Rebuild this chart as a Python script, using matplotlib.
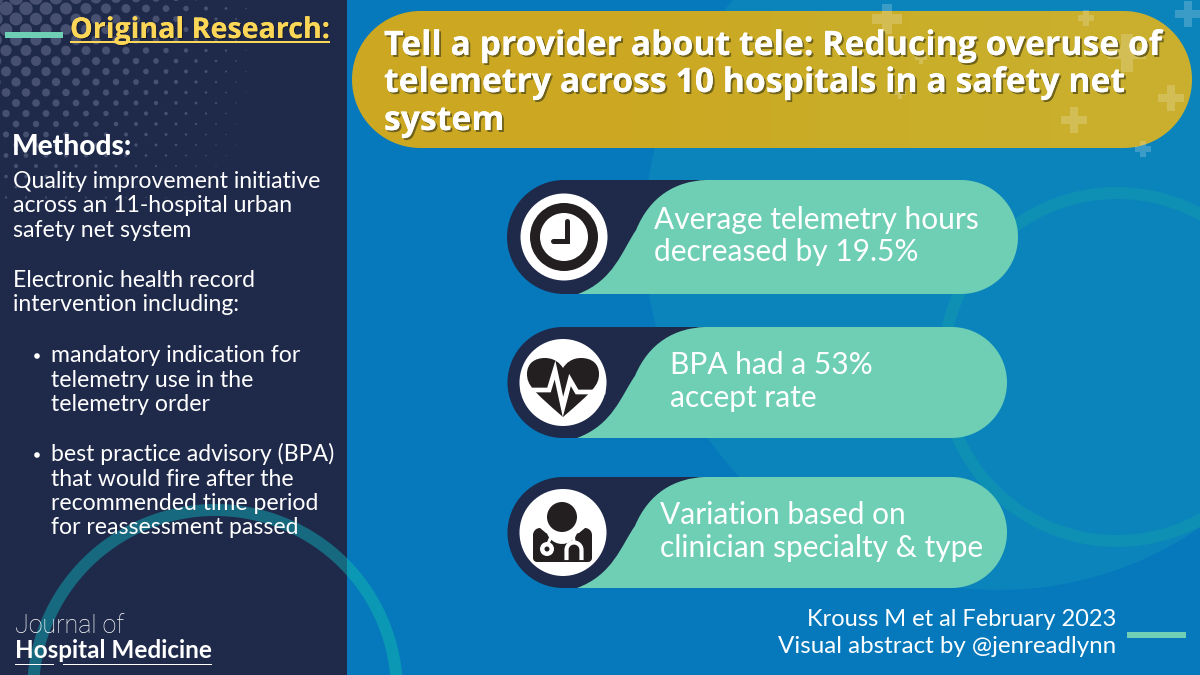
import numpy as np
import matplotlib
matplotlib.use("Agg")
import matplotlib.pyplot as plt
import matplotlib.patheffects as pe
from matplotlib.colors import LinearSegmentedColormap
from matplotlib.patches import Circle, Rectangle, PathPatch, Wedge, Polygon
from matplotlib.path import Path

# ---- content ----
badge_title = "Original Research:"
methods_head = "Methods:"
methods_lines = ["Quality improvement initiative", "across an 11-hospital urban", "safety net system",
                 "Electronic health record", "intervention including:"]
methods_base = [188, 212, 237, 287, 311]
bullet_lines = ["mandatory indication for", "telemetry use in the", "telemetry order",
                "best practice advisory (BPA)", "that would fire after the",
                "recommended time period", "for reassessment passed"]
bullet_base = [362, 387, 411, 461, 486, 510, 534]
title_lines = ["Tell a provider about tele: Reducing overuse of",
               "telemetry across 10 hospitals in a safety net", "system"]
title_base = [55, 92, 130]
result_lines = [["Average telemetry hours", "decreased by 19.5%"],
                ["BPA had a 53%", "accept rate"],
                ["Variation based on", "clinician specialty & type"]]
credit_lines = ["Krouss M et al February 2023", "Visual abstract by @jenreadlynn"]

NAVY, TEAL, BLUE = "#1f2a4b", "#6ecfb5", "#0579bc"
BLACK, YELLOW = "#231f20", "#fcd757"
SANS, HEAD = "Lato", "Open Sans"

fig = plt.figure(figsize=(12, 6.75), dpi=100, facecolor=BLUE)
ax = fig.add_axes([0, 0, 1, 1])
ax.set_xlim(0, 1200)
ax.set_ylim(675, 0)
ax.axis("off")


def arc(cx, cy, r, a0, a1, n=60):
    t = np.radians(np.linspace(a0, a1, n))
    return np.column_stack([cx + r * np.cos(t), cy + r * np.sin(t)])


def cross(x, y, s, color="white", alpha=0.2, z=3):
    w = s * 0.32
    ax.add_patch(Polygon([(x - w / 2, y - s / 2), (x + w / 2, y - s / 2), (x + w / 2, y - w / 2),
                          (x + s / 2, y - w / 2), (x + s / 2, y + w / 2), (x + w / 2, y + w / 2),
                          (x + w / 2, y + s / 2), (x - w / 2, y + s / 2), (x - w / 2, y + w / 2),
                          (x - s / 2, y + w / 2), (x - s / 2, y - w / 2), (x - w / 2, y - w / 2)],
                         closed=True, fc=color, ec="none", alpha=alpha, zorder=z))


# ---- background ----
ax.add_patch(Circle((999, 235), 355, fc="#0b84bb", ec="none", zorder=0.5))
ax.add_patch(Wedge((1117, 367), 180, 0, 360, width=12, fc="#0e90b5", ec="none", zorder=0.6))
ax.add_patch(Wedge((215, 692), 188, 0, 360, width=12, fc="#0a98b5", ec="none", zorder=0.7))

# gold title pill with a soft horizontal shift
gold_map = LinearSegmentedColormap.from_list("gold", ["#cca822", "#cca822", "#c9ae2a", "#c9b02e"])
r = (148 - 11) / 2
pill_pts = np.vstack([arc(352 + r, 11 + r, r, 90, 270), arc(1192 - r, 11 + r, r, -90, 90)])
pill_clip = Polygon(pill_pts, closed=True, transform=ax.transData, fc="none", ec="none")
ax.add_patch(pill_clip)
im = ax.imshow(np.linspace(0, 1, 256)[None, :], cmap=gold_map, extent=(352, 1192, 148, 11),
               aspect="auto", zorder=1)
im.set_clip_path(pill_clip)
ax.set_xlim(0, 1200)
ax.set_ylim(675, 0)

for x, y, s in [(887, 19, 30), (1086, 18, 16), (1127, 53, 38), (1188, 14, 26), (1171, 98, 26),
                (1074, 120, 26), (1143, 149, 16), (921, 58, 12), (900, 93, 12)]:
    cross(x, y, s)

# ---- left panel ----
ax.add_patch(Rectangle((0, 0), 347, 675, fc=NAVY, ec="none", zorder=4))
for j, y in enumerate(np.arange(-2, 215, 10.5)):
    for x in np.arange(-4 + (j % 2) * 10, 300, 20):
        rd = 7.2 * (1 - (max(x, 0) / 265) ** 1.4) * (1 - y / 235)
        if x < 265 and rd > 0.4:
            ax.add_patch(Circle((x, y), rd, fc="#475071", ec="none", zorder=5))
ring_in = Wedge((215, 692), 188, 0, 360, width=12, fc="#17697f", ec="none", zorder=5)
ax.add_patch(ring_in)
ring_in.set_clip_path(Rectangle((0, 0), 347, 675, transform=ax.transData))

ax.add_patch(Rectangle((5, 32), 58, 6, fc=TEAL, ec="none", zorder=6))
ax.text(70, 38, badge_title, color=YELLOW, family=HEAD, weight="bold", fontsize=20.6, zorder=7,
        path_effects=[pe.withSimplePatchShadow(offset=(0.8, -0.8), shadow_rgbFace="#111111", alpha=0.6), pe.Normal()])
ax.add_patch(Rectangle((70, 40.5), 260, 2, fc=YELLOW, ec="none", zorder=7))
ax.text(12, 155, methods_head, color="white", family=SANS, weight="black", fontsize=20.2, zorder=7)
for s, b in zip(methods_lines, methods_base):
    ax.text(13, b, s, color="white", family=SANS, fontsize=16.6, zorder=7)
for s, b in zip(bullet_lines, bullet_base):
    ax.text(51, b, s, color="white", family=SANS, fontsize=16.6, zorder=7)
for b in (bullet_base[0], bullet_base[3]):
    ax.add_patch(Circle((37, b - 6), 2.8, fc="white", ec="none", zorder=7))

ax.text(15, 633, "Journal of", color="white", family="Roboto", weight="light", fontsize=18, zorder=7)
ax.text(15, 658, "Hospital Medicine", color="white", family=SANS, weight="bold", fontsize=17.5, zorder=7)
for x0, w in [(15, 39), (63, 149)]:
    ax.add_patch(Rectangle((x0, 663.5), w, 1.5, fc="white", ec="none", zorder=7))

# ---- title ----
for s, b in zip(title_lines, title_base):
    ax.text(384, b, s, color="white", family=HEAD, weight="bold", fontsize=24.3, zorder=8,
            path_effects=[pe.withSimplePatchShadow(offset=(1.4, -1.4), shadow_rgbFace="#6b5f1c", alpha=0.95), pe.Normal()])

# ---- result pills ----
rows = [(180, 294, 1018, 564, 654, (228, 260)),
        (327, 438, 1007, 563, 670, (373, 407)),
        (477, 588, 1007, 563, 660, (524, 557))]
for (y0, y1, xr, cx, tx, bases), lines in zip(rows, result_lines):
    cy, rr = (y0 + y1) / 2, (y1 - y0) / 2
    ax.add_patch(Circle((cx, cy), rr, fc=NAVY, ec="none", zorder=5))
    ax.add_patch(Rectangle((cx, y0), 170, y1 - y0, fc=NAVY, ec="none", zorder=5))
    h = y1 - y0
    verts = [(cx + 14, y1), (cx + 50, y1 - 0.12 * h), (cx + 58, y0 + 0.62 * h), (cx + 72, y0 + 0.44 * h),
             (cx + 86, y0 + 0.14 * h), (cx + 112, y0 + 0.01 * h), (cx + 142, y0), (xr - rr, y0)]
    codes = [Path.MOVETO, Path.CURVE4, Path.CURVE4, Path.CURVE4, Path.CURVE4, Path.CURVE4, Path.CURVE4, Path.LINETO]
    end = arc(xr - rr, cy, rr, -90, 90)
    verts += [tuple(p) for p in end[1:]] + [(cx + 14, y1)]
    codes += [Path.LINETO] * len(end)
    ax.add_patch(PathPatch(Path(verts, codes), fc=TEAL, ec="none", zorder=6))
    ax.add_patch(Circle((cx, cy), 43.5, fc="white", ec="none", zorder=7))
    for s, b in zip(lines, bases):
        ax.text(tx, b + 0.5, s, color="white", family=SANS, fontsize=21.5, zorder=8)

# clock
cx, cy = 564, 237
ax.add_patch(Wedge((cx, cy), 34, 0, 360, width=10, fc=BLACK, ec="none", zorder=8))
ax.plot([cx + 3, cx + 3, cx - 11], [cy - 16, cy + 4, cy + 4], color=BLACK, lw=3.6, zorder=8,
        solid_joinstyle="miter", solid_capstyle="round")

# heart
cx, cy = 563, 383
heart = Path([(cx, cy + 34), (cx - 30, cy + 8), (cx - 36, cy + 2), (cx - 36, cy - 9), (cx - 36, cy - 20),
              (cx - 28, cy - 25), (cx - 18, cy - 25), (cx - 9, cy - 25), (cx - 3, cy - 20), (cx, cy - 15),
              (cx + 3, cy - 20), (cx + 9, cy - 25), (cx + 18, cy - 25), (cx + 28, cy - 25), (cx + 36, cy - 20),
              (cx + 36, cy - 9), (cx + 36, cy + 2), (cx + 30, cy + 8), (cx, cy + 34)],
             [Path.MOVETO] + [Path.CURVE4] * 18)
ax.add_patch(PathPatch(heart, fc=BLACK, ec="none", zorder=8))
ax.plot([cx - 40, cx - 14, cx - 8, cx, cx + 7, cx + 14, cx + 40],
        [cy + 7, cy + 7, cy - 13, cy + 24, cy - 3, cy + 9, cy + 9],
        color="white", lw=3.4, zorder=9, solid_joinstyle="miter")

# doctor
cx, cy = 563, 532
ax.add_patch(Circle((cx - 1, cy - 15), 15, fc=BLACK, ec="none", zorder=8))
body = Polygon(np.vstack([[(cx - 17, cy + 1)], arc(cx - 23, cy + 3, 7, 270, 180, 8), [(cx - 30, cy + 26)],
                          arc(cx - 26, cy + 26, 4, 180, 90, 8), arc(cx + 25, cy + 26, 4, 90, 0, 8),
                          [(cx + 29, cy + 3)], arc(cx + 22, cy + 3, 7, 0, -90, 8), [(cx + 16, cy + 1)],
                          arc(cx - 1, cy - 4, 16, 20, 160, 12)]), closed=True, fc=BLACK, ec="none", zorder=8)
ax.add_patch(body)
ax.plot([cx - 10, cx - 13, cx - 16], [cy + 0, cy + 7, cy + 14], color="white", lw=2.2, zorder=9)
ax.add_patch(Circle((cx - 16, cy + 17), 7, fc="white", ec="none", zorder=9))
ax.add_patch(Circle((cx - 16, cy + 17), 2.5, fc=BLACK, ec="none", zorder=10))
t = arc(cx + 11, cy + 18, 7.5, 180, 360, 20)
ax.plot(np.r_[cx + 3.5, t[:, 0], cx + 18.5], np.r_[cy + 26, t[:, 1], cy + 26], color="white", lw=3, zorder=9)
ax.plot([cx + 11, cx + 10], [cy + 10, cy + 0], color="white", lw=2.2, zorder=9)

# ---- credit ----
for s, b, fs in zip(credit_lines, (626, 653), (17.0, 17.4)):
    ax.text(1116, b, s, color="white", family=SANS, ha="right", fontsize=fs, zorder=8)
ax.add_patch(Rectangle((1127, 632), 59, 6, fc=TEAL, ec="none", zorder=8))

fig.savefig("out.png", dpi=100, facecolor=BLUE)
